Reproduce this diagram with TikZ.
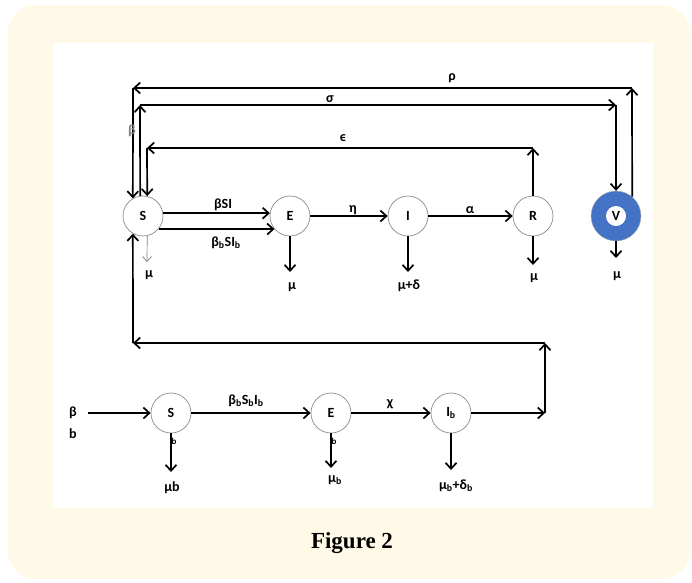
\documentclass[tikz,border=0pt]{standalone}
\usepackage{fontspec}
\setmainfont{Carlito}
\newfontfamily\capfont{Liberation Serif}
\usetikzlibrary{arrows.meta,positioning}
\definecolor{panelcream}{RGB}{255,250,232}
\definecolor{vblue}{RGB}{68,114,196}

\begin{document}
\begin{tikzpicture}[x=1pt,y=-1pt,
comp/.style={draw=gray!90,line width=0.7pt,circle,minimum size=40pt,inner sep=0pt,fill=white,font=\bfseries\fontsize{14}{16}\selectfont},
flow/.style={-{Straight Barb[length=6pt,width=11pt]},line width=1.7pt},
thinflow/.style={-{Straight Barb[length=5pt,width=9pt]},line width=0.7pt,gray},
lbl/.style={font=\bfseries\fontsize{14}{16}\selectfont,inner sep=1pt},
tiny/.style={font=\bfseries\fontsize{9}{10}\selectfont,inner sep=0pt}
]
% panel
\useasboundingbox (0,0) rectangle (692,582);
\fill[white] (0,0) rectangle (692,582);
\fill[panelcream,rounded corners=28pt] (8,5) rectangle (690,579);
\fill[white] (53,43) rectangle (653,508);

% human compartments
\node[comp] (S) at (143,216) {S};
\node[comp] (E) at (290,216) {E};
\node[comp] (I) at (408,216) {I};
\node[comp] (R) at (533,216) {R};
\node[circle,fill=vblue,draw=gray!60,minimum size=50pt,inner sep=0pt] (V) at (616,216) {};
\node[comp,draw=none,minimum size=20pt] (Vin) at (V) {V};

% bird compartments
\node[comp] (Sb) at (171,413) {S};
\node[comp] (Eb) at (331,413) {E};
\node[comp] (Ib) at (451,413) {I\textsubscript{b}};

% corner points
\coordinate (epsR) at (533,148);
\coordinate (epsS) at (147,148);
\coordinate (sigS) at (140,105);
\coordinate (sigV) at (616,105);
\coordinate (rhoV) at (632,88);
\coordinate (rhoS) at (133,88);
\coordinate (loopR) at (545,413);
\coordinate (loopUp) at (545,343);
\coordinate (loopL) at (133,343);
\coordinate (inb) at (88,413);

% main flows
\draw[flow] (S.8) -- (E.172);
\draw[flow] (S.-40) -- (E.220);
\draw[flow] (E) -- (I);
\draw[flow] (I) -- (R);
\draw[flow] (R) -- (epsR);
\draw[flow] (epsR) -- (epsS);
\draw[flow] (epsS) -- (S.78.5);
\draw[flow] (S.98.6) -- (sigS);
\draw[flow] (sigS) -- (sigV);
\draw[flow] (sigV) -- (V);
\draw[flow] (V.50) -- (rhoV);
\draw[flow] (rhoV) -- (rhoS);
\draw[flow] (rhoS) -- (S.120);

% bird flows
\draw[flow] (inb) -- (Sb);
\draw[flow] (Sb) -- (Eb);
\draw[flow] (Eb) -- (Ib);
\draw[flow] (Ib) -- (loopR);
\draw[flow] (loopR) -- (loopUp);
\draw[flow] (loopUp) -- (loopL);
\draw[flow] (loopL) -- (S.240);

% deaths
\coordinate (dS) at (147,262);
\coordinate (dE) at (290,272);
\coordinate (dI) at (408,272);
\coordinate (dR) at (533,265);
\coordinate (dV) at (616,258);
\coordinate (dSb) at (171,472);
\coordinate (dEb) at (331,468);
\coordinate (dIb) at (451,470);
\draw[thinflow] (S.-78.5) -- (dS);
\draw[flow] (E) -- (dE);
\draw[flow] (I) -- (dI);
\draw[flow] (R) -- (dR);
\draw[flow] (V) -- (dV);
\draw[flow] (Sb) -- (dSb);
\draw[flow] (Eb) -- (dEb);
\draw[flow] (Ib) -- (dIb);

% labels
\node[lbl] (lSI) at (223,205) {βSI};
\node[lbl] (lSIb) at (226,243) {β\textsubscript{b}SI\textsubscript{b}};
\node[lbl] (leta) at (353,210) {η};
\node[lbl] (lalpha) at (470,210) {α};
\node[lbl] (leps) at (343,138) {ϵ};
\node[lbl] (lsigma) at (330,99) {σ};
\node[lbl] (lrho) at (452,78) {ρ};
\node[lbl,text=gray] (lbeta) at (132,131) {β};
\node[lbl] (mS) at (149,275) {μ};
\node[lbl] (mE) at (292,287) {μ};
\node[lbl] (mI) at (409,286) {μ+δ};
\node[lbl] (mR) at (534,278) {μ};
\node[lbl] (mV) at (617,276) {μ};
\node[lbl] (recB) at (73,413) {β};
\node[lbl] (recb) at (73,434) {b};
\node[lbl] (lSbIb) at (246,401) {β\textsubscript{b}S\textsubscript{b}I\textsubscript{b}};
\node[lbl] (lchi) at (390,404) {χ};
\node[tiny] (bSb) at (174,441) {b};
\node[tiny] (bEb) at (334,441) {b};
\node[lbl] (mSb) at (172,488) {μb};
\node[lbl] (mEb) at (335,480) {μ\textsubscript{b}};
\node[lbl] (mIb) at (456,486) {μ\textsubscript{b}+δ\textsubscript{b}};

\node[font=\capfont\bfseries\fontsize{23}{26}\selectfont] (cap) at (352,543) {Figure 2};
\end{tikzpicture}
\end{document}
